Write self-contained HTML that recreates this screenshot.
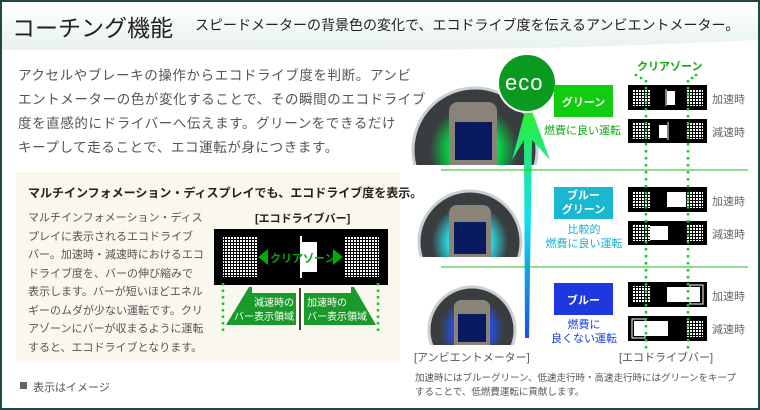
<!DOCTYPE html>
<html><head><meta charset="utf-8">
<style>
*{margin:0;padding:0;box-sizing:border-box}
body{width:760px;height:410px;overflow:hidden;background:#fff;font-family:"Liberation Sans","Noto Sans CJK JP",sans-serif;position:relative}
.a{position:absolute;white-space:nowrap}
#frame{position:absolute;left:0;top:0;width:760px;height:410px;border:2px solid #1d4a44;pointer-events:none}
</style></head><body>
<svg class="a" style="left:0;top:0" width="760" height="410" viewBox="0 0 760 410">
<defs>
<linearGradient id="hdr" x1="0" y1="0" x2="0" y2="1"><stop offset="0" stop-color="#fff"/><stop offset="1" stop-color="#e8f2ef"/></linearGradient>
<linearGradient id="arr" x1="0" y1="1" x2="0" y2="0"><stop offset="0" stop-color="#1a50e0"/><stop offset="0.5" stop-color="#10e0f0"/><stop offset="1" stop-color="#30f020"/></linearGradient>
<pattern id="dots" width="3" height="3" patternUnits="userSpaceOnUse"><rect width="3" height="3" fill="#000"/><rect width="2" height="2" fill="#fff"/></pattern>
<radialGradient id="g1"><stop offset="0.55" stop-color="#0d4"/><stop offset="1" stop-color="#0d4" stop-opacity="0"/></radialGradient>
<radialGradient id="g2"><stop offset="0.55" stop-color="#2ce0e8"/><stop offset="1" stop-color="#2ce0e8" stop-opacity="0"/></radialGradient>
<radialGradient id="g3"><stop offset="0.55" stop-color="#2550f0"/><stop offset="1" stop-color="#2550f0" stop-opacity="0"/></radialGradient>
<clipPath id="c1"><rect x="400" y="60" width="140" height="105"/></clipPath>
<clipPath id="c2"><rect x="400" y="170" width="140" height="87"/></clipPath>
<clipPath id="c3"><rect x="400" y="270" width="140" height="75"/></clipPath>
</defs>
<path d="M2 2 H758 V40 Q600 48 420 50 H2 Z" fill="url(#hdr)"/>
<rect x="16" y="172" width="384" height="190" fill="#faf7ee"/>
<!-- eco bar diagram -->
<rect x="214" y="229" width="174" height="56" fill="#000"/>
<rect x="223" y="237" width="34" height="40" fill="url(#dots)"/>
<rect x="345" y="237" width="34" height="40" fill="url(#dots)"/>
<rect x="301" y="242" width="16" height="30" fill="#fff"/>
<line x1="301" y1="236" x2="301" y2="278" stroke="#fff" stroke-width="2"/>
<polygon points="258,257 268,249 268,265" fill="#0a0"/>
<polygon points="333,249 343,257 333,265" fill="#0a0"/>
<polygon points="249,287 252,287 252,293 296,293 296,325 226,325" fill="#1a9a2a"/>
<polygon points="351,287 354,287 376,325 304,325 304,293 351,293" fill="#1a9a2a"/>
<line x1="300" y1="288" x2="300" y2="330" stroke="#000" stroke-width="1.5"/>
<line x1="223" y1="283" x2="223" y2="332" stroke="#1c2" stroke-width="2.5" stroke-dasharray="2.5 4"/>
<line x1="378" y1="283" x2="378" y2="332" stroke="#1c2" stroke-width="2.5" stroke-dasharray="2.5 4"/>
<rect x="20" y="382" width="7" height="7" fill="#666"/>
<!-- meters -->
<g clip-path="url(#c1)">
<circle cx="475" cy="150" r="62" fill="#3a3d40" stroke="#c8d0d4" stroke-width="3"/>
<circle cx="474" cy="150" r="44" fill="url(#g1)"/>
<rect x="449" y="102" width="48" height="70" rx="9" fill="#8a8378"/>
<rect x="455" y="122" width="37" height="38" fill="#0a1a60"/>
</g>
<g clip-path="url(#c2)">
<circle cx="470" cy="242" r="51" fill="#3a3d40" stroke="#c8d0d4" stroke-width="3"/>
<circle cx="470" cy="242" r="38" fill="url(#g2)"/>
<rect x="449" y="205" width="42" height="60" rx="8" fill="#8a8378"/>
<rect x="454" y="222" width="32" height="32" fill="#0a1a60"/>
</g>
<g clip-path="url(#c3)">
<circle cx="472" cy="330" r="43" fill="#3a3d40" stroke="#c8d0d4" stroke-width="3"/>
<circle cx="472" cy="330" r="32" fill="url(#g3)"/>
<rect x="454" y="300" width="36" height="52" rx="7" fill="#8a8378"/>
<rect x="458" y="314" width="28" height="28" fill="#0a1a60"/>
</g>
<!-- arrow -->
<polygon points="525,338 529,338 532,140 550,160 528,100 512,160 524,140" fill="url(#arr)"/>
<circle cx="527" cy="83" r="29" fill="#0a9a20" stroke="#fff" stroke-width="2"/>
<!-- separators -->
<line x1="441" y1="170" x2="748" y2="170" stroke="#2b2" stroke-width="1"/>
<line x1="441" y1="267" x2="748" y2="267" stroke="#2b2" stroke-width="1"/>
<!-- labels boxes -->
<rect x="554" y="85" width="59" height="32" fill="#1c1"/>
<rect x="554" y="187" width="59" height="32" fill="#1ab8d0"/>
<rect x="554" y="283" width="59" height="32" fill="#1e38e0"/>
<!-- bars -->
<g id="bars">
<rect x="628" y="85" width="79" height="25" fill="#000"/><rect x="632" y="89" width="18" height="17" fill="url(#dots)"/><rect x="686" y="89" width="17" height="17" fill="url(#dots)"/><rect x="667" y="91" width="8" height="14" fill="#fff"/><line x1="666" y1="89" x2="666" y2="106" stroke="#fff"/>
<rect x="628" y="119" width="79" height="24" fill="#000"/><rect x="632" y="123" width="18" height="16" fill="url(#dots)"/><rect x="686" y="123" width="17" height="16" fill="url(#dots)"/><rect x="659" y="125" width="8" height="13" fill="#fff"/><line x1="668" y1="122" x2="668" y2="140" stroke="#fff"/>
<rect x="628" y="187" width="79" height="25" fill="#000"/><rect x="632" y="191" width="18" height="17" fill="url(#dots)"/><rect x="686" y="191" width="17" height="17" fill="url(#dots)"/><rect x="667" y="192" width="19" height="15" fill="#fff"/>
<rect x="628" y="221" width="79" height="24" fill="#000"/><rect x="632" y="225" width="18" height="16" fill="url(#dots)"/><rect x="686" y="225" width="17" height="16" fill="url(#dots)"/><rect x="650" y="226" width="18" height="14" fill="#fff"/>
<rect x="628" y="282" width="79" height="25" fill="#000"/><rect x="632" y="286" width="18" height="17" fill="url(#dots)"/><rect x="667" y="287" width="33" height="15" fill="#fff"/><rect x="690" y="285" width="13" height="19" fill="none" stroke="#fff"/>
<rect x="628" y="316" width="79" height="25" fill="#000"/><rect x="686" y="320" width="17" height="17" fill="url(#dots)"/><rect x="634" y="321" width="34" height="15" fill="#fff"/><rect x="632" y="319" width="13" height="19" fill="none" stroke="#fff"/>
</g>
<line x1="646" y1="80" x2="646" y2="350" stroke="#1c2" stroke-width="2.5" stroke-dasharray="2.5 4.5"/>
<line x1="688" y1="80" x2="688" y2="350" stroke="#1c2" stroke-width="2.5" stroke-dasharray="2.5 4.5"/>
<circle cx="636" cy="75" r="1.4" fill="#1c2"/><circle cx="641" cy="78" r="1.4" fill="#1c2"/>
<circle cx="696" cy="75" r="1.4" fill="#1c2"/><circle cx="692" cy="78" r="1.4" fill="#1c2"/>
</svg>

<div class="a" style="left:12px;top:9px;font-size:23px;color:#222">コーチング機能</div>
<div class="a" style="left:195px;top:15px;font-size:14px;color:#222">スピードメーターの背景色の変化で、エコドライブ度を伝えるアンビエントメーター。</div>
<div class="a" style="left:18px;top:64px;font-size:13.5px;line-height:24px;color:#555;letter-spacing:0.6px">アクセルやブレーキの操作からエコドライブ度を判断。アンビ<br>エントメーターの色が変化することで、その瞬間のエコドライブ<br>度を直感的にドライバーへ伝えます。グリーンをできるだけ<br>キープして走ることで、エコ運転が身につきます。</div>
<div class="a" style="left:28px;top:184px;font-size:12px;font-weight:bold;color:#222">マルチインフォメーション・ディスプレイでも、エコドライブ度を表示。</div>
<div class="a" style="left:28px;top:209px;font-size:11px;line-height:18.5px;color:#555">マルチインフォメーション・ディス<br>プレイに表示されるエコドライブ<br>バー。加速時・減速時におけるエコ<br>ドライブ度を、バーの伸び縮みで<br>表示します。バーが短いほどエネル<br>ギーのムダが少ない運転です。クリ<br>アゾーンにバーが収まるように運転<br>すると、エコドライブとなります。</div>
<div class="a" style="left:255px;top:210px;font-size:11px;font-weight:bold;color:#222">[エコドライブバー]</div>
<div class="a" style="left:270px;top:250px;font-size:11px;font-weight:bold;color:#0a0">クリアゾーン</div>
<div class="a" style="left:234px;top:297px;font-size:10px;line-height:14px;color:#fff;text-align:right;width:60px">減速時の<br>バー表示領域</div>
<div class="a" style="left:307px;top:297px;font-size:10px;line-height:14px;color:#fff">加速時の<br>バー表示領域</div>
<div class="a" style="left:33px;top:379px;font-size:11px;color:#555">表示はイメージ</div>

<div class="a" style="left:505px;top:70px;font-size:22px;color:#fff;letter-spacing:1px">eco</div>
<div class="a" style="left:554px;top:94px;width:59px;text-align:center;font-size:11px;font-weight:bold;color:#fff">グリーン</div>
<div class="a" style="left:544px;top:122px;font-size:11px;color:#1a1">燃費に良い運転</div>
<div class="a" style="left:554px;top:189px;width:59px;text-align:center;font-size:11px;line-height:14px;font-weight:bold;color:#fff">ブルー<br>グリーン</div>
<div class="a" style="left:544px;top:223px;width:80px;text-align:center;font-size:11px;line-height:14px;color:#1ab0d0">比較的<br>燃費に良い運転</div>
<div class="a" style="left:554px;top:292px;width:59px;text-align:center;font-size:11px;font-weight:bold;color:#fff">ブルー</div>
<div class="a" style="left:548px;top:318px;width:72px;text-align:center;font-size:11px;line-height:14px;color:#1a40e0">燃費に<br>良くない運転</div>
<div class="a" style="left:637px;top:58px;font-size:11px;font-weight:bold;color:#1a1">クリアゾーン</div>
<div class="a" style="left:712px;top:91px;font-size:11px;color:#666">加速時</div>
<div class="a" style="left:712px;top:124px;font-size:11px;color:#666">減速時</div>
<div class="a" style="left:712px;top:193px;font-size:11px;color:#666">加速時</div>
<div class="a" style="left:712px;top:226px;font-size:11px;color:#666">減速時</div>
<div class="a" style="left:712px;top:288px;font-size:11px;color:#666">加速時</div>
<div class="a" style="left:712px;top:321px;font-size:11px;color:#666">減速時</div>
<div class="a" style="left:414px;top:349px;font-size:11px;color:#555">[アンビエントメーター]</div>
<div class="a" style="left:619px;top:349px;font-size:11px;color:#555">[エコドライブバー]</div>
<div class="a" style="left:415px;top:372px;font-size:9.5px;line-height:14px;color:#555">加速時にはブルーグリーン、低速走行時・高速走行時にはグリーンをキープ<br>することで、低燃費運転に貢献します。</div>
<div id="frame"></div>
</body></html>
